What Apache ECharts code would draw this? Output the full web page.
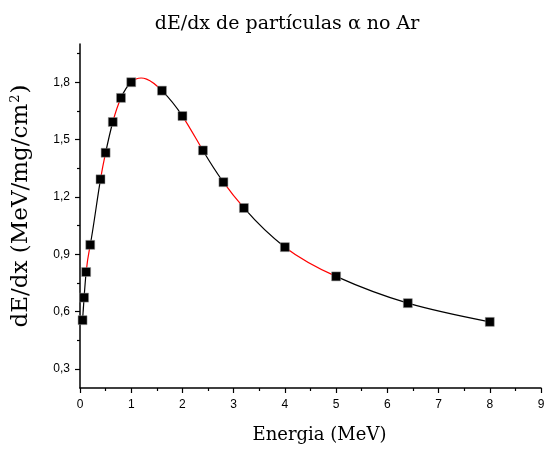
<!DOCTYPE html>
<html>
<head>
<meta charset="utf-8">
<script src="https://cdn.jsdelivr.net/npm/echarts@6/dist/echarts.min.js"></script>
<style>
  html, body { margin: 0; padding: 0; background: #fff; }
  #main { width: 551px; height: 452px; }
</style>
</head>
<body>
<div id="main"></div>
<script>
// energia (MeV) e dE/dx (MeV/mg/cm2)
const energia = [0.05, 0.08, 0.12, 0.2, 0.4, 0.5, 0.64, 0.8, 1.0, 1.6, 2.0, 2.4, 2.8, 3.2, 4.0, 5.0, 6.4, 8.0];
const dedx = [0.555, 0.673, 0.807, 0.949, 1.292, 1.431, 1.592, 1.718, 1.800, 1.756, 1.623, 1.443, 1.277, 1.142, 0.937, 0.784, 0.644, 0.546];
// segmentos da curva desenhados a vermelho (indice do ponto inicial)
const segVermelhos = [2, 4, 6, 8, 10, 12, 14];
const yMajor = [0.3, 0.6, 0.9, 1.2, 1.5, 1.8];
const yMinor = [0.45, 0.75, 1.05, 1.35, 1.65, 1.95];

const pontos = energia.map((e, i) => [e, dedx[i]]);
const n = energia.length;

// spline cubica natural (segundas derivadas M)
const splineM = (() => {
  const h = [], a = [], b = [], c = [], r = [];
  for (let i = 0; i < n - 1; i++) h.push(energia[i + 1] - energia[i]);
  const M = new Array(n).fill(0);
  // sistema tridiagonal para i = 1..n-2
  for (let i = 1; i < n - 1; i++) {
    a.push(h[i - 1] / 6);
    b.push((h[i - 1] + h[i]) / 3);
    c.push(h[i] / 6);
    r.push((dedx[i + 1] - dedx[i]) / h[i] - (dedx[i] - dedx[i - 1]) / h[i - 1]);
  }
  const m = b.length;
  for (let i = 1; i < m; i++) {
    const w = a[i] / b[i - 1];
    b[i] -= w * c[i - 1];
    r[i] -= w * r[i - 1];
  }
  const sol = new Array(m);
  sol[m - 1] = r[m - 1] / b[m - 1];
  for (let i = m - 2; i >= 0; i--) sol[i] = (r[i] - c[i] * sol[i + 1]) / b[i];
  for (let i = 0; i < m; i++) M[i + 1] = sol[i];
  return M;
})();

const fmt = v => String(Math.round(v * 10) / 10).replace('.', ',');
const serif = "'DejaVu Serif', 'Liberation Serif', serif";
const sans = "'Liberation Sans', Arial, sans-serif";

// desenha cada trecho da curva como bezier
const renderSeg = (params, api) => {
  const i = params.dataIndex;
  if (i >= n - 1) return null;
  const x0 = energia[i], x1 = energia[i + 1], y0 = dedx[i], y1 = dedx[i + 1];
  const h = x1 - x0;
  const s = (y1 - y0) / h;
  const d0 = s - h * (2 * splineM[i] + splineM[i + 1]) / 6;
  const d1 = s + h * (splineM[i] + 2 * splineM[i + 1]) / 6;
  const p0 = api.coord([x0, y0]);
  const p1 = api.coord([x1, y1]);
  const c0 = api.coord([x0 + h / 3, y0 + d0 * h / 3]);
  const c1 = api.coord([x1 - h / 3, y1 - d1 * h / 3]);
  return {
    type: 'bezierCurve',
    shape: { x1: p0[0], y1: p0[1], x2: p1[0], y2: p1[1], cpx1: c0[0], cpy1: c0[1], cpx2: c1[0], cpy2: c1[1] },
    style: { stroke: segVermelhos.includes(i) ? '#ff0000' : '#000000', fill: null, lineWidth: 1.2 }
  };
};

const chart = echarts.init(document.getElementById('main'));
const option = {
  animation: false,
  title: {
    text: 'dE/dx de partículas α no Ar',
    left: 282,
    textAlign: 'center',
    top: 10,
    textStyle: { fontFamily: serif, fontSize: 19, fontWeight: 'normal', color: '#000' }
  },
  grid: { left: 80, right: 10, top: 44, bottom: 64 },
  xAxis: {
    type: 'value',
    min: 0, max: 9, interval: 1,
    name: 'Energia (MeV)',
    nameLocation: 'middle',
    nameGap: 38,
    nameTextStyle: { fontFamily: serif, fontSize: 18, color: '#000', padding: [0, 0, 0, 18] },
    axisLine: { lineStyle: { color: '#000', width: 1.5 } },
    axisTick: { length: 5, lineStyle: { color: '#000', width: 1.2 } },
    minorTick: { show: true, splitNumber: 2, length: 3, lineStyle: { color: '#000', width: 1.2 } },
    axisLabel: { fontFamily: sans, fontSize: 12, color: '#000', margin: 11 },
    splitLine: { show: false }
  },
  yAxis: [{
    type: 'value',
    min: 0.2, max: 2.0,
    name: 'dE/dx (MeV/mg/cm{s|2})',
    nameLocation: 'middle',
    nameGap: 47,
    nameRotate: 90,
    nameTextStyle: {
      fontFamily: serif, fontSize: 23, color: '#000', padding: [0, 0, 0, 20],
      rich: { s: { fontFamily: serif, fontSize: 13, verticalAlign: 'top', padding: [0, 1, 11, 1] } }
    },
    axisLine: { lineStyle: { color: '#000', width: 1.5 } },
    axisTick: { customValues: yMajor, length: 5, lineStyle: { color: '#000', width: 1.2 } },
    axisLabel: { customValues: yMajor, formatter: fmt, fontFamily: sans, fontSize: 12, color: '#000', margin: 10 },
    splitLine: { show: false }
  }, {
    type: 'value',
    min: 0.2, max: 2.0,
    position: 'left',
    axisLine: { show: false },
    axisTick: { customValues: yMinor, length: 3, lineStyle: { color: '#000', width: 1.2 } },
    axisLabel: { show: false },
    splitLine: { show: false }
  }],
  series: [{
    type: 'custom',
    data: pontos,
    encode: { x: 0, y: 1 },
    renderItem: renderSeg,
    z: 2
  }, {
    type: 'scatter',
    data: pontos,
    symbol: 'rect',
    symbolSize: 9,
    itemStyle: { color: '#000', borderColor: '#999', borderWidth: 0.5, opacity: 1 },
    z: 3
  }]
};
chart.setOption(option);
</script>
</body>
</html>
